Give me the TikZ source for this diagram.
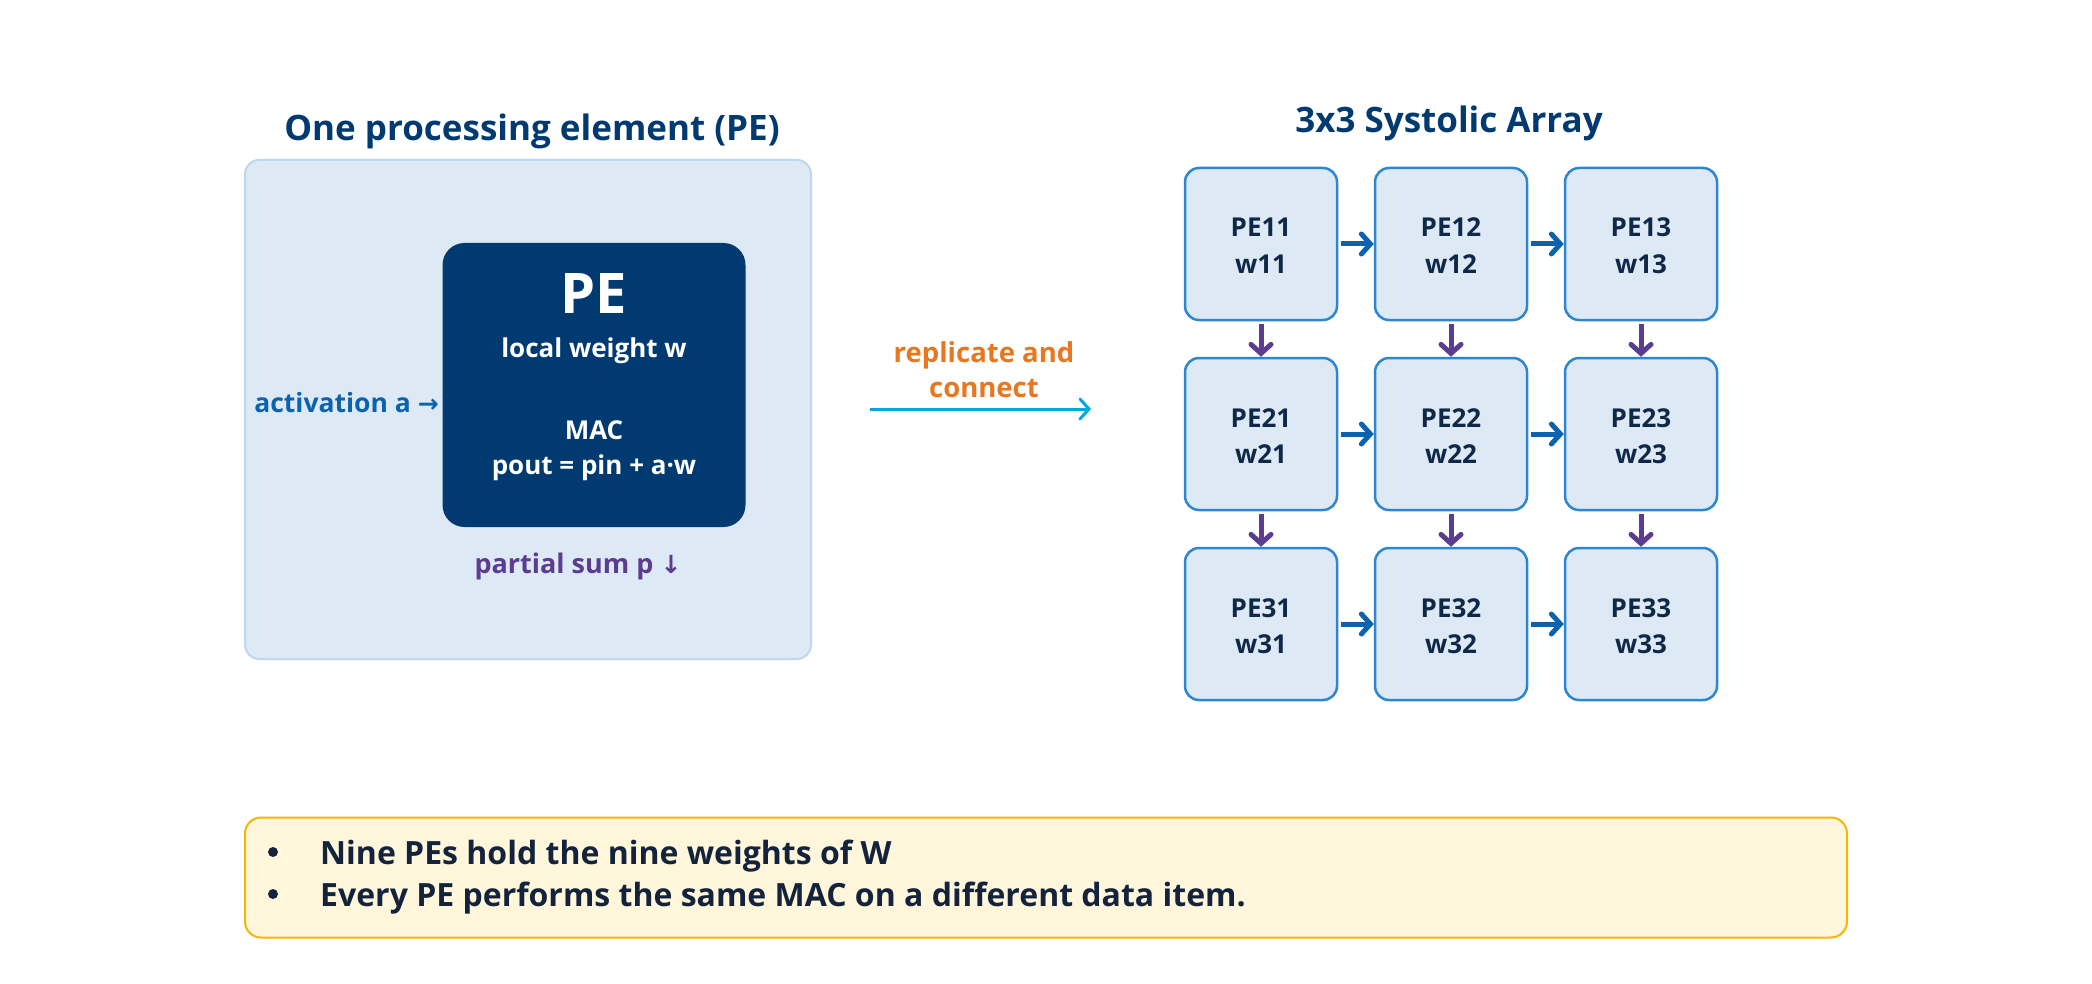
\documentclass[tikz,border=0pt]{standalone}
\usepackage{fontspec}
\setmainfont{Open Sans}
\newfontfamily\symfont{DejaVu Sans}
\usetikzlibrary{arrows.meta}
\definecolor{navy}{RGB}{0,58,112}
\definecolor{paleblue}{RGB}{221,234,246}
\definecolor{paleborder}{RGB}{189,215,238}
\definecolor{gridborder}{RGB}{46,134,207}
\definecolor{gridtext}{RGB}{16,40,72}
\definecolor{actblue}{RGB}{11,98,174}
\definecolor{sumpurple}{RGB}{91,60,143}
\definecolor{repl}{RGB}{232,119,34}
\definecolor{cyanarrow}{RGB}{0,168,224}
\definecolor{notefill}{RGB}{255,246,220}
\definecolor{noteborder}{RGB}{242,184,5}
\definecolor{notetext}{RGB}{20,35,60}
\tikzset{
  titletext/.style={font=\bfseries\fontsize{35}{42}\selectfont, text=navy, inner sep=0pt, anchor=base},
  outerbox/.style={draw=paleborder, line width=2pt, fill=paleblue, rounded corners=14pt, inner sep=0pt},
  darkbox/.style={fill=navy, rounded corners=22pt, inner sep=0pt},
  petext/.style={text=white, font=\bfseries\fontsize{26}{30}\selectfont, inner sep=0pt, anchor=base},
  pebig/.style={text=white, font=\bfseries\fontsize{56}{60}\selectfont, inner sep=0pt, anchor=base},
  gridbox/.style={draw=gridborder, line width=2.5pt, fill=paleblue, rounded corners=14pt,
     minimum width=152pt, minimum height=152pt, inner sep=0pt},
  gridlbl/.style={text=gridtext, font=\bfseries\fontsize{26}{36}\selectfont, inner sep=0pt, anchor=base},
  harrow/.style={draw=actblue, line width=5pt, -{Straight Barb[length=9pt,width=20pt,line cap=round]}, shorten <=3pt},
  varrow/.style={draw=sumpurple, line width=5pt, -{Straight Barb[length=9pt,width=20pt,line cap=round]}, shorten <=3pt},
  notebox/.style={draw=noteborder, line width=2pt, fill=notefill, rounded corners=16pt, inner sep=0pt},
  notetxt/.style={text=notetext, font=\bfseries\fontsize{32}{36}\selectfont, inner sep=0pt, anchor=base west},
  bulletdot/.style={circle, fill=notetext, inner sep=0pt, minimum size=10pt},
}
\begin{document}
\begin{tikzpicture}[x=1pt,y=-1pt]
\useasboundingbox[fill=white] (0,0) rectangle (2092,984);
% left part
\node[titletext] (t1) at (532,141) {One processing element (PE)};
\node[outerbox, minimum width=566pt, minimum height=499pt] (outer) at (528,409.5) {};
\node[darkbox, minimum width=303pt, minimum height=284pt] (pe) at (594,385) {};
\node[pebig] (pelbl) at (594,313) {PE};
\node[petext] (lw) at (594,357) {local weight w};
\node[petext] (mac) at (594,439) {MAC};
\node[petext] (pout) at (594,474) {pout = pin + a·w};
\node[inner sep=0pt, text=actblue, font=\bfseries\fontsize{26.5}{30}\selectfont, anchor=base east] (act) at (439,412) {activation a {\symfont\bfseries\fontsize{25}{24}\selectfont →}};
\node[inner sep=0pt, text=sumpurple, font=\bfseries\fontsize{27}{30}\selectfont, anchor=base] (psum) at (578,573) {partial sum p {\symfont\bfseries\fontsize{25}{24}\selectfont ↓}};
% replicate arrow
\coordinate (ra) at (870,409);
\coordinate (rb) at (1091,409);
\draw[draw=cyanarrow, line width=3pt, -{Straight Barb[length=9pt,width=20pt,line cap=round]}] (ra) -- (rb);
\node[inner sep=0pt, text=repl, font=\bfseries\fontsize{27.5}{35}\selectfont, anchor=base] (rep1) at (984,362) {replicate and};
\node[inner sep=0pt, text=repl, font=\bfseries\fontsize{27.5}{35}\selectfont, anchor=base] (rep2) at (984,397) {connect};
% grid
\node[titletext] (t2) at (1449,133) {3x3 Systolic Array};
\foreach \r/\y in {1/244,2/434,3/624}{
  \foreach \c/\x in {1/1261,2/1451,3/1641}{
    \node[gridbox] (pe\r\c) at (\x,\y) {};
    \node[gridlbl] (l\r\c) at ([yshift=7pt]pe\r\c.center) {PE\r\c};
    \node[gridlbl] (m\r\c) at ([yshift=-29pt]pe\r\c.center) {w\r\c};
  }
}
\foreach \r in {1,2,3}{
  \draw[harrow] (pe\r1.east) -- (pe\r2.west);
  \draw[harrow] (pe\r2.east) -- (pe\r3.west);
}
\foreach \c in {1,2,3}{
  \draw[varrow] (pe1\c.south) -- (pe2\c.north);
  \draw[varrow] (pe2\c.south) -- (pe3\c.north);
}
% note box
\node[notebox, minimum width=1602pt, minimum height=120pt] (note) at (1046,877.5) {};
\node[bulletdot] (b1) at (273,852) {};
\node[notetxt] (n1) at (320,864) {Nine PEs hold the nine weights of W};
\node[bulletdot] (b2) at (273,894) {};
\node[notetxt] (n2) at (320,906.5) {Every PE performs the same MAC on a different data item.};
\end{tikzpicture}
\end{document}
